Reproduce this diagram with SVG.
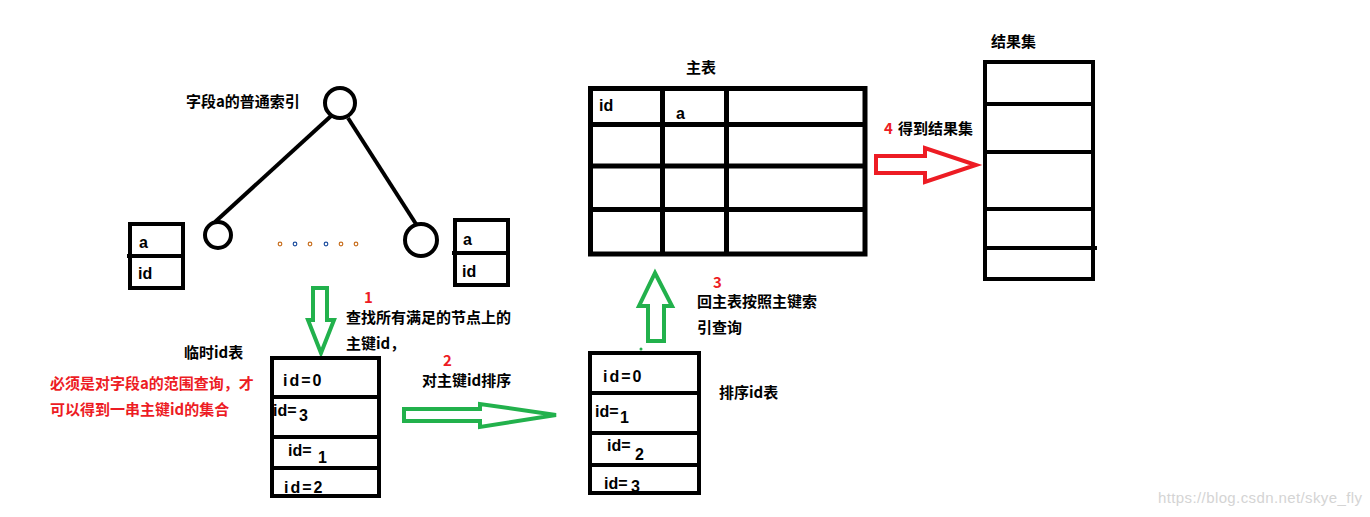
<svg xmlns="http://www.w3.org/2000/svg" width="1370" height="517" viewBox="0 0 1370 517">
<style>
.t{font-family:"Noto Sans CJK SC","Liberation Sans",sans-serif;font-size:15px;font-weight:bold;fill:#000}
.r{fill:#ed1c24}
.lat{font-family:"Liberation Sans","Noto Sans CJK SC",sans-serif;font-size:16px;font-weight:bold;fill:#000}
.sp{letter-spacing:2px}
.box{fill:#fff;stroke:#000;stroke-width:4}
.ln{stroke:#000;stroke-width:4;fill:none}
.thick{stroke:#000;stroke-width:5;fill:none}
.ga{fill:none;stroke:#22b14c;stroke-width:4;stroke-linejoin:miter}
.ra{fill:none;stroke:#ed1c24;stroke-width:4;stroke-linejoin:miter}
.dot{fill:none;stroke-width:1.2}
</style>
<rect width="1370" height="517" fill="#fff"/>

<g id="connectors">
<line class="ln" x1="331" y1="116" x2="215" y2="222"/>
<line class="ln" x1="348" y1="118" x2="416" y2="224"/>
<polygon class="ga" points="313,288 327,288 327,320 334,320 321,353 308,320 313,320"/>
<polygon class="ga" points="404,409 480,409 480,404 556,415 480,427 480,421 404,421"/>
<polygon class="ga" points="655,273 672,306 664,306 664,341 648,341 648,306 639,306"/>
<circle cx="641" cy="349" r="1.5" fill="#22b14c"/>
<polygon class="ra" points="876,156 925,156 925,148 976,165 925,182 925,173 876,173"/>
</g>

<g id="index-tree">
<text class="t" x="186" y="107">字段a的普通索引</text>
<circle cx="340" cy="103" r="15" class="ln"/>
<circle cx="218" cy="235" r="13" class="ln"/>
<circle cx="421" cy="240" r="16" class="ln"/>
<circle cx="280" cy="244" r="1.8" class="dot" stroke="#c87020"/>
<circle cx="295" cy="244" r="1.8" class="dot" stroke="#2050a0"/>
<circle cx="310" cy="244" r="1.8" class="dot" stroke="#c87020"/>
<circle cx="326" cy="244" r="1.8" class="dot" stroke="#2050a0"/>
<circle cx="341" cy="244" r="1.8" class="dot" stroke="#c87020"/>
<circle cx="356" cy="244" r="1.8" class="dot" stroke="#c87020"/>
</g>

<g id="leaf-left">
<rect class="box" x="130" y="224" width="53" height="64"/>
<line class="ln" x1="127" y1="256" x2="183" y2="256"/>
<text class="lat" x="139" y="248">a</text>
<text class="lat" x="138" y="279">id</text>
</g>

<g id="leaf-right">
<rect class="box" x="455" y="220" width="53" height="65"/>
<line class="ln" x1="452" y1="253" x2="508" y2="253"/>
<text class="lat" x="463" y="245">a</text>
<text class="lat" x="462" y="277">id</text>
</g>

<g id="step1-label">
<text class="t r" x="364" y="303">1</text>
<text class="t" x="346" y="323">查找所有满足的节点上的</text>
<text class="t" x="346" y="349">主键id，</text>
</g>

<g id="note">
<text class="t r" x="50" y="389">必须是对字段a的范围查询，才</text>
<text class="t r" x="50" y="415">可以得到一串主键id的集合</text>
</g>

<g id="temp-table">
<text class="t" x="184" y="358">临时id表</text>
<rect class="box" x="272" y="358" width="107" height="138"/>
<line class="ln" x1="272" y1="397" x2="379" y2="397"/>
<line class="ln" x1="272" y1="437" x2="379" y2="437"/>
<line class="ln" x1="272" y1="468" x2="379" y2="468"/>
<text class="lat sp" x="283" y="386">id=0</text>
<text class="lat" x="273" y="416">id=</text><text class="lat" x="299" y="421">3</text>
<text class="lat" x="288" y="456">id=</text><text class="lat" x="318" y="463">1</text>
<text class="lat sp" x="284" y="493">id=2</text>
</g>

<g id="step2-label">
<text class="t r" x="443" y="366">2</text>
<text class="t" x="422" y="386">对主键id排序</text>
</g>

<g id="sorted-table">
<rect class="box" x="590" y="353" width="109" height="140"/>
<line class="ln" x1="590" y1="393" x2="699" y2="393"/>
<line class="ln" x1="590" y1="433" x2="699" y2="433"/>
<line class="ln" x1="590" y1="465" x2="699" y2="465"/>
<text class="lat sp" x="603" y="382">id=0</text>
<text class="lat" x="595" y="417">id=</text><text class="lat" x="620" y="423">1</text>
<text class="lat" x="607" y="451">id=</text><text class="lat" x="635" y="460">2</text>
<text class="lat" x="604" y="489">id=</text><text class="lat" x="631" y="492">3</text>
<text class="t" x="719" y="398">排序id表</text>
</g>

<g id="step3-label">
<text class="t r" x="713" y="288">3</text>
<text class="t" x="697" y="307">回主表按照主键索</text>
<text class="t" x="697" y="333">引查询</text>
</g>

<g id="main-table">
<text class="t" x="686" y="73">主表</text>
<rect class="thick" x="590.5" y="88.5" width="274.5" height="165.5"/>
<line class="thick" x1="662.5" y1="88" x2="662.5" y2="254"/>
<line class="thick" x1="726.5" y1="88" x2="726.5" y2="254"/>
<line class="thick" x1="590" y1="124.5" x2="865" y2="124.5"/>
<line class="thick" x1="590" y1="166" x2="865" y2="166"/>
<line class="thick" x1="590" y1="209.5" x2="865" y2="209.5"/>
<text class="lat" x="599" y="111">id</text>
<text class="lat" x="676" y="119">a</text>
</g>

<g id="step4-label">
<text class="t r" x="884" y="134">4</text>
<text class="t" x="898" y="134">得到结果集</text>
</g>

<g id="result-set">
<text class="t" x="991" y="47">结果集</text>
<rect class="box" x="985" y="62" width="108" height="217"/>
<line class="ln" x1="985" y1="104" x2="1093" y2="104"/>
<line class="ln" x1="985" y1="152" x2="1093" y2="152"/>
<line class="ln" x1="985" y1="209" x2="1093" y2="209"/>
<line class="ln" x1="985" y1="248" x2="1097" y2="248"/>
</g>

<text x="1158" y="503" textLength="204" style="font-family:'Liberation Sans',sans-serif;font-size:15px;fill:#d4d4d4">https://blog.csdn.net/skye_fly</text>
</svg>
